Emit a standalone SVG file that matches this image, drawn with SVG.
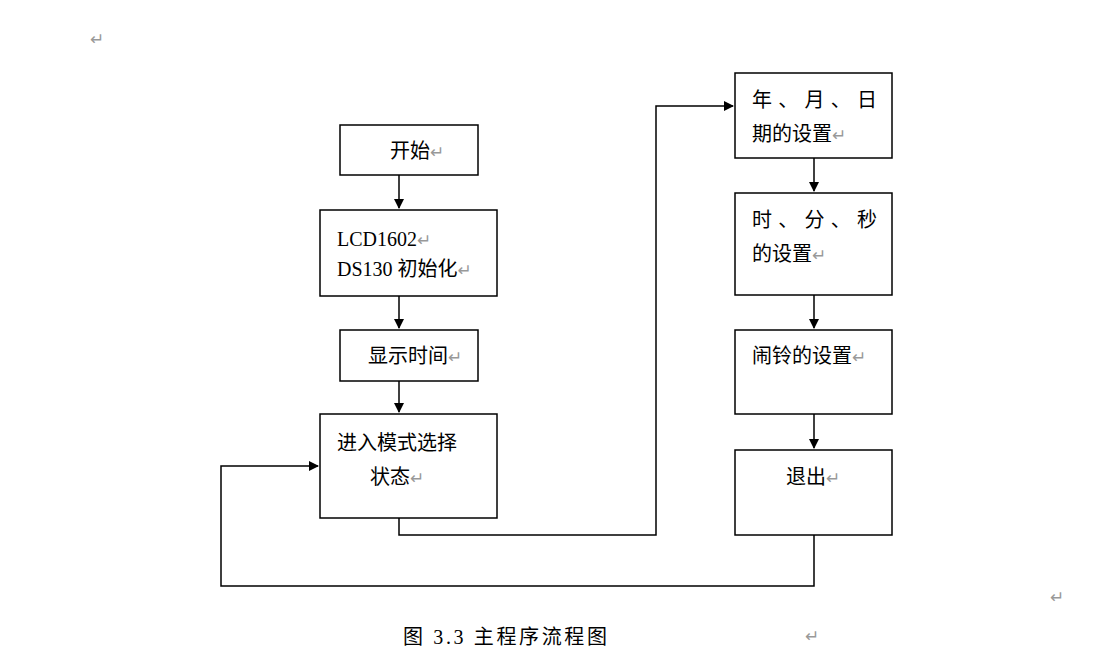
<svg xmlns="http://www.w3.org/2000/svg" width="1102" height="655" viewBox="0 0 1102 655">
<style>
.b{fill:#fff;stroke:#000;stroke-width:1.5}
.t{font-family:"Liberation Serif","Noto Sans CJK SC",serif;font-size:20px;fill:#000}
.r{font-family:"DejaVu Sans",sans-serif;font-size:17px;fill:#999}
.c{fill:none;stroke:#000;stroke-width:1.5}
</style>
<defs><marker id="a" markerWidth="10" markerHeight="10" refX="9" refY="5" orient="auto" markerUnits="userSpaceOnUse"><path d="M0,0L10,5L0,10z" fill="#000"/></marker></defs>
<rect width="1102" height="655" fill="#fff"/>
<text class="r" x="90" y="45">↵</text>
<g id="connectors">
<path class="c" d="M399,175V208" marker-end="url(#a)"/>
<path class="c" d="M399,296V328" marker-end="url(#a)"/>
<path class="c" d="M399,381V412" marker-end="url(#a)"/>
<path class="c" d="M814,158V191" marker-end="url(#a)"/>
<path class="c" d="M814,295V328" marker-end="url(#a)"/>
<path class="c" d="M814,414V448" marker-end="url(#a)"/>
<path class="c" d="M399,518V535H656V106H733" marker-end="url(#a)"/>
<path class="c" d="M814,535V586H221V466H318" marker-end="url(#a)"/>
</g>
<g id="start"><rect class="b" x="340" y="125" width="138" height="50"/><text class="t" x="390" y="158">开始<tspan class="r">↵</tspan></text></g>
<g id="init"><rect class="b" x="320" y="210" width="177" height="86"/><text class="t" x="337" y="246">LCD1602<tspan class="r">↵</tspan></text><text class="t" x="337" y="276">DS130 初始化<tspan class="r">↵</tspan></text></g>
<g id="show"><rect class="b" x="340" y="330" width="138" height="51"/><text class="t" x="368" y="363">显示时间<tspan class="r">↵</tspan></text></g>
<g id="mode"><rect class="b" x="320" y="414" width="177" height="104"/><text class="t" x="337" y="450">进入模式选择</text><text class="t" x="370" y="484">状态<tspan class="r">↵</tspan></text></g>
<g id="date"><rect class="b" x="735" y="73" width="157" height="85"/><text class="t" x="752" y="107" textLength="125">年、月、日</text><text class="t" x="752" y="141">期的设置<tspan class="r">↵</tspan></text></g>
<g id="time"><rect class="b" x="735" y="193" width="157" height="102"/><text class="t" x="752" y="227" textLength="125">时、分、秒</text><text class="t" x="752" y="261">的设置<tspan class="r">↵</tspan></text></g>
<g id="alarm"><rect class="b" x="735" y="330" width="157" height="84"/><text class="t" x="752" y="363">闹铃的设置<tspan class="r">↵</tspan></text></g>
<g id="exit"><rect class="b" x="735" y="450" width="157" height="85"/><text class="t" x="786" y="484">退出<tspan class="r">↵</tspan></text></g>
<text class="r" x="1050" y="603">↵</text>
<text class="t" x="403" y="644" textLength="204" lengthAdjust="spacing">图 3.3 主程序流程图</text>
<text class="r" x="805" y="642">↵</text>
</svg>
